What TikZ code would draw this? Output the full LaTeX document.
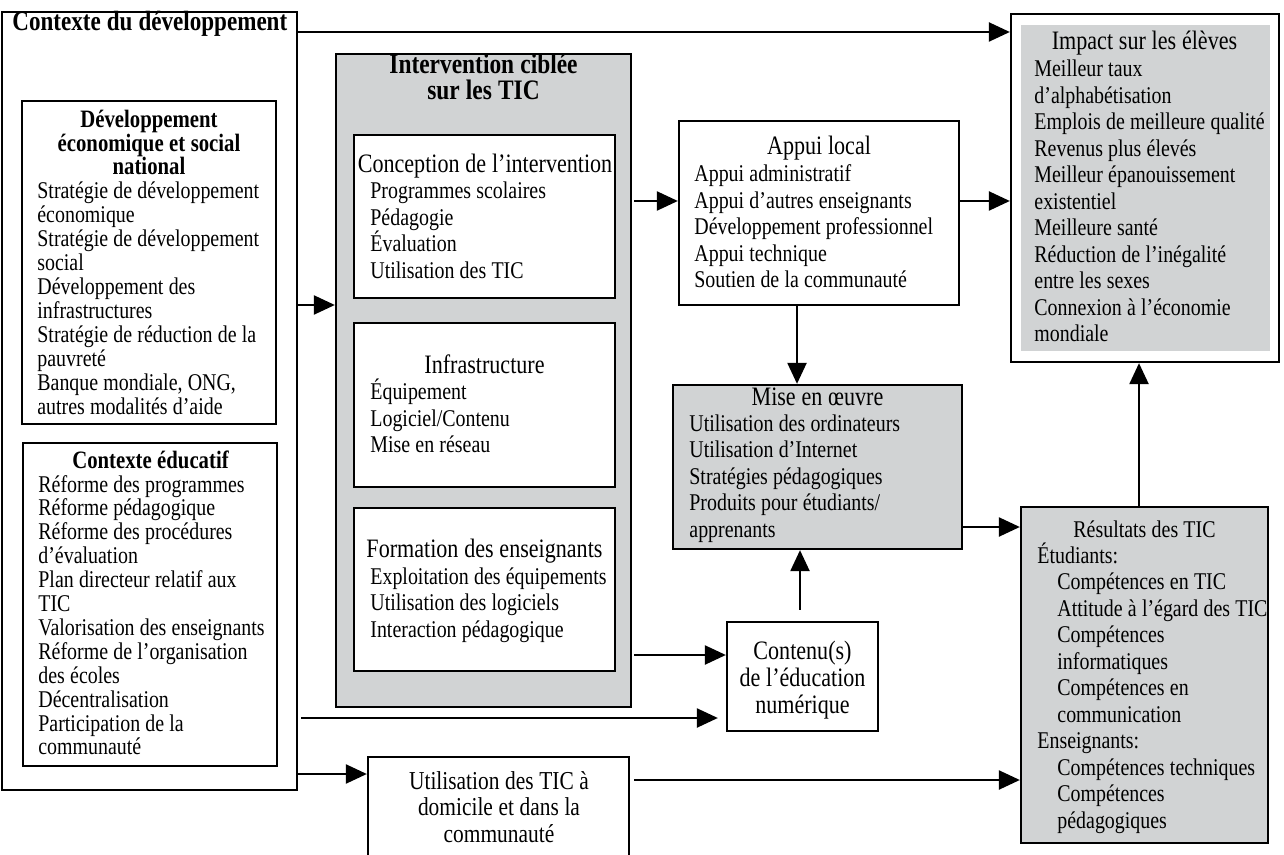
\documentclass[tikz,border=0pt]{standalone}
\usepackage{fontspec}
\setmainfont{Liberation Serif}[FakeStretch=0.83,WordSpace=1.05]
\usetikzlibrary{arrows.meta,fit,calc}
\definecolor{gr}{HTML}{D1D3D4}
\newcommand\fsi{\fontsize{12}{13.25}\selectfont}
\newcommand\fsl{\fontsize{12}{11.95}\selectfont}
\newcommand\fst{\fontsize{13.3}{13.5}\selectfont}
\newcommand\fsb{\fontsize{12.5}{11.75}\bfseries\selectfont}
\newcommand\fsB{\fontsize{14.1}{13}\bfseries\selectfont}
\tikzset{
  box/.style={draw, line width=1.15pt, inner sep=0pt},
  gbox/.style={box, fill=gr},
  wbox/.style={box, fill=white},
  txt/.style={font=\fsi, align=flush left, text width=220pt, inner sep=0pt, anchor=base west},
  txtl/.style={txt, font=\fsl},
  ttl/.style={font=\fst, align=flush center, text width=220pt, inner sep=0pt, anchor=base},
  arr/.style={line width=1.15pt, -{Triangle[length=10.5pt,width=9.5pt]}},
}
\begin{document}
\begin{tikzpicture}[x=0.5pt,y=-0.5pt]
\useasboundingbox (0,0) rectangle (1284,855);
\clip (0,0) rectangle (1284,855);
% boxes
\node[box, fit={(2,12) (297,790)}] (ctx) {};
\node[box, fit={(22,101) (276,424)}] (dev) {};
\node[box, fit={(23,443) (277,766)}] (edu) {};
\node[gbox, fit={(336,54) (631,707)}] (interv) {};
\node[wbox, fit={(354,135) (615,298)}] (conc) {};
\node[wbox, fit={(354,323) (615,487)}] (infra) {};
\node[wbox, fit={(354,508) (615,671)}] (form) {};
\node[box, fit={(679,121) (959,305)}] (appui) {};
\node[gbox, fit={(673,385) (962,549)}] (mise) {};
\node[box, fit={(727,622) (878,731)}] (cont) {};
\node[box, fit={(368,757) (629,885)}] (util) {};
\node[gbox, fit={(1021,507) (1268,843)}] (res) {};
\node[box, fit={(1011,14) (1279,362)}] (impact) {};
\fill[gr] (1021,25) rectangle (1270,351);
% texts
\node[font=\fontsize{13.9}{13}\bfseries\selectfont, anchor=base west, inner sep=0pt] (ctxt) at (12,31) {Contexte du développement};
\node[ttl, font=\fsb] (devt) at (149,128) {Développement\\économique et social\\national};
\node[txtl] (devi) at (37,199) {Stratégie de développement\\économique\\Stratégie de développement\\social\\Développement des\\infrastructures\\Stratégie de réduction de la\\pauvreté\\Banque mondiale, ONG,\\autres modalités d’aide};
\node[ttl, font=\fsb] (edut) at (150.5,468) {Contexte éducatif};
\node[txtl] (edui) at (38,492) {Réforme des programmes\\Réforme pédagogique\\Réforme des procédures\\d’évaluation\\Plan directeur relatif aux\\TIC\\Valorisation des enseignants\\Réforme de l’organisation\\des écoles\\Décentralisation\\Participation de la\\communauté};
\node[ttl, font=\fsB] (intt) at (483.5,74) {Intervention ciblée\\sur les TIC};
\node[ttl] (conct) at (485,173) {Conception de l’intervention};
\node[txt] (conci) at (370,199) {Programmes scolaires\\Pédagogie\\Évaluation\\Utilisation des TIC};
\node[ttl] (infrat) at (484.5,373) {Infrastructure};
\node[txt] (infrai) at (370,400) {Équipement\\Logiciel/Contenu\\Mise en réseau};
\node[ttl] (formt) at (484.5,557) {Formation des enseignants};
\node[txt] (formi) at (370,584) {Exploitation des équipements\\Utilisation des logiciels\\Interaction pédagogique};
\node[ttl] (appuit) at (819,155) {Appui local};
\node[txt] (appuii) at (694,182) {Appui administratif\\Appui d’autres enseignants\\Développement professionnel\\Appui technique\\Soutien de la communauté};
\node[ttl] (miset) at (817.5,405) {Mise en œuvre};
\node[txt] (misei) at (689,431) {Utilisation des ordinateurs\\Utilisation d’Internet\\Stratégies pédagogiques\\Produits pour étudiants/\\apprenants};
\node[ttl] (contt) at (802.5,659) {Contenu(s)\\de l’éducation\\numérique};
\node[ttl, font=\fontsize{12.9}{13.25}\selectfont] (utilt) at (499,789) {Utilisation des TIC à\\domicile et dans la\\communauté};
\node[ttl, font=\fsi] (rest) at (1144.5,537) {Résultats des TIC};
\node[txt] (resi) at (1037,563) {Étudiants:\\\hspace*{10pt}Compétences en TIC\\\hspace*{10pt}Attitude à l’égard des TIC\\\hspace*{10pt}Compétences\\\hspace*{10pt}informatiques\\\hspace*{10pt}Compétences en\\\hspace*{10pt}communication\\Enseignants:\\\hspace*{10pt}Compétences techniques\\\hspace*{10pt}Compétences\\\hspace*{10pt}pédagogiques};
\node[ttl] (impt) at (1144.5,50) {Impact sur les élèves};
\node[txt] (impi) at (1034,77) {Meilleur taux\\d’alphabétisation\\Emplois de meilleure qualité\\Revenus plus élevés\\Meilleur épanouissement\\existentiel\\Meilleure santé\\Réduction de l’inégalité\\entre les sexes\\Connexion à l’économie\\mondiale};
% connectors
\draw[arr] (ctx.east |- 0,32) -- (impact.west |- 0,32);
\draw[arr] (ctx.east |- 0,305) -- (interv.west |- 0,305);
\draw[arr, shorten <=1pt] (interv.east |- 0,201) -- (appui.west |- 0,201);
\draw[arr] (appui.east |- 0,201) -- (impact.west |- 0,201);
\draw[arr] (appui.south -| 797,0) -- (mise.north -| 797,0);
\draw[arr, shorten <=5.5pt] (cont.north -| 800,0) -- (mise.south -| 800,0);
\draw[arr, shorten <=1pt] (interv.east |- 0,655) -- (cont.west |- 0,655);
\draw[arr, shorten <=1.5pt, shorten >=4pt] (ctx.east |- 0,718) -- (cont.west |- 0,718);
\draw[arr] (ctx.east |- 0,774) -- (util.west |- 0,774);
\draw[arr, shorten <=2pt] (util.east |- 0,780) -- (res.west |- 0,780);
\draw[arr] (mise.east |- 0,527) -- (res.west |- 0,527);
\draw[arr] (res.north -| 1139,0) -- (impact.south -| 1139,0);
\end{tikzpicture}
\end{document}
